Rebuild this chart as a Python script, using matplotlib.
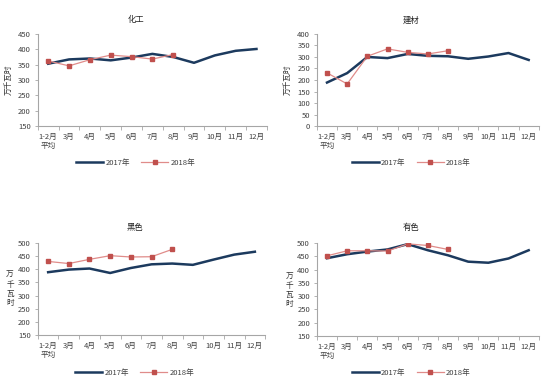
import matplotlib
matplotlib.use('Agg')
import matplotlib.pyplot as plt
import numpy as np

plt.rcParams['font.family'] = ['Noto Sans CJK SC', 'DejaVu Sans']

months = ['1-2月\n平均', '3月', '4月', '5月', '6月', '7月', '8月', '9月', '10月', '11月', '12月']
titles = ['化工', '建材', '黑色', '有色']

chem_2017 = [353, 367, 370, 364, 373, 385, 375, 356, 380, 395, 401]
chem_2018 = [362, 346, 366, 381, 376, 368, 383]
build_2017 = [189, 230, 300, 295, 313, 305, 303, 292, 302, 317, 287]
build_2018 = [231, 183, 303, 335, 320, 313, 327]
ferrous_2017 = [389, 399, 403, 386, 405, 419, 422, 417, 437, 456, 467]
ferrous_2018 = [430, 422, 438, 452, 447, 448, 476]
nonfer_2017 = [443, 458, 468, 476, 496, 473, 454, 430, 426, 442, 473]
nonfer_2018 = [452, 471, 471, 470, 497, 491, 476]

series_2017 = [chem_2017, build_2017, ferrous_2017, nonfer_2017]
series_2018 = [chem_2018, build_2018, ferrous_2018, nonfer_2018]
ylims = [(150, 450), (0, 400), (150, 500), (150, 500)]
yticks = [np.arange(150, 451, 50), np.arange(0, 401, 50), np.arange(150, 501, 50), np.arange(150, 501, 50)]

# axes boxes in figure fractions: left, bottom, width, height
boxes = [[0.068, 0.669, 0.412, 0.242],
         [0.570, 0.669, 0.399, 0.242],
         [0.068, 0.121, 0.409, 0.241],
         [0.570, 0.118, 0.399, 0.244]]
legend_y = [0.572, 0.572, 0.022, 0.022]
title_y = [0.95, 0.948, 0.402, 0.402]

c2017 = '#1c3a5e'
c2018_line = '#e08c8a'
c2018_mark = '#c0504d'
spine_c = '#a6a6a6'

fig = plt.figure(figsize=(5.56, 3.81), dpi=100)
fig.patch.set_facecolor('white')

for i in range(4):
    ax = fig.add_axes(boxes[i])
    x = np.arange(len(months))
    l1, = ax.plot(x, series_2017[i], color=c2017, lw=1.8, label='2017年')
    x2 = np.arange(len(series_2018[i]))
    l2, = ax.plot(x2, series_2018[i], color=c2018_line, lw=0.9, marker='s', ms=3.4,
                  mfc=c2018_mark, mec=c2018_mark, label='2018年')
    ax.set_xlim(-0.5, len(months) - 0.5)
    ax.set_ylim(*ylims[i])
    ax.set_yticks(yticks[i])
    ax.tick_params(axis='y', labelsize=5.5, length=2, width=0.6, color=spine_c, pad=3, labelcolor='#404040')
    ax.set_xticks(x)
    ax.set_xticklabels(months, fontsize=5.5, color='#404040')
    ax.tick_params(axis='x', length=0, pad=5)
    ax.set_xticks(np.arange(-0.5, len(months), 1), minor=True)
    ax.tick_params(axis='x', which='minor', length=3, width=0.6, color=spine_c)
    for s in ['top', 'right']:
        ax.spines[s].set_visible(False)
    for s in ['left', 'bottom']:
        ax.spines[s].set_color(spine_c)
        ax.spines[s].set_linewidth(0.8)
    cx = boxes[i][0] + boxes[i][2] / 2
    fig.text(cx - 0.03, title_y[i], titles[i], fontsize=6, ha='center', va='center', color='#222222')
    if i < 2:
        ax.set_ylabel('万千瓦时', fontsize=5.5, labelpad=4, color='#333333')
    else:
        fig.text(boxes[i][0] - 0.05, boxes[i][1] + 0.12, '万\n千\n瓦\n时', fontsize=5.5,
                 ha='center', va='center', linespacing=1.2, color='#333333')
    fig.legend(handles=[l1, l2], loc='center', bbox_to_anchor=(cx - 0.03, legend_y[i]), ncol=2,
               frameon=False, fontsize=5.5, handlelength=3.5, columnspacing=1.5, handletextpad=0.3,
               labelcolor='#404040')

fig.savefig('out.png', dpi=100, facecolor='white')
